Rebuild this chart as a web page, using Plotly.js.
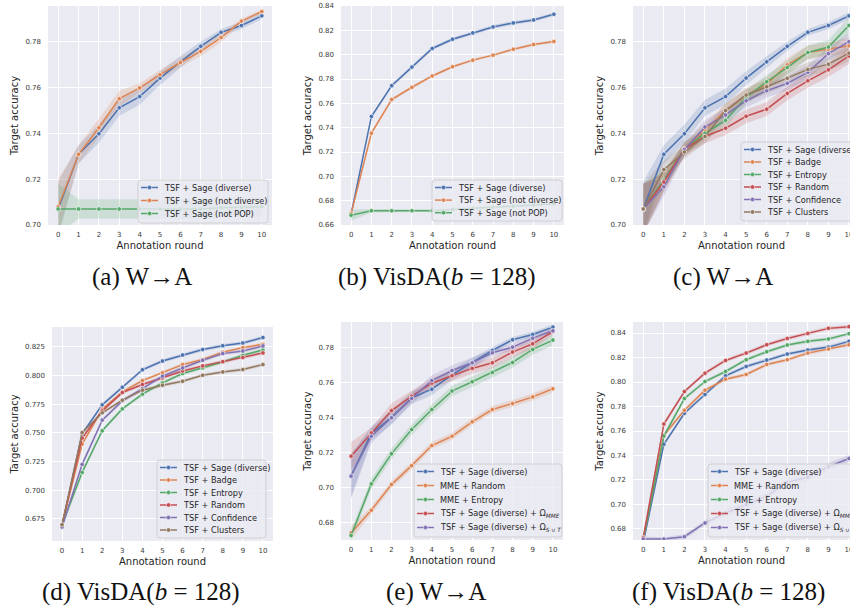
<!DOCTYPE html>
<html><head><meta charset="utf-8">
<script src="https://cdn.plot.ly/plotly-3.0.1.min.js"></script>
<style>html,body{margin:0;padding:0;background:#fff;overflow:hidden}#chart{width:850px;height:609px}</style>
</head><body><div id="chart"></div>
<script>
// ---------------- DATA ----------------
const rounds = [0,1,2,3,4,5,6,7,8,9,10];

// W->A
const waSageDiverse      = [0.707, 0.7309, 0.7399, 0.7512, 0.7561, 0.7642, 0.7713, 0.7781, 0.7842, 0.7872, 0.7914];
const waSageDiverseErr   = [0.012, 0.004, 0.004, 0.0035, 0.0035, 0.003, 0.0025, 0.002, 0.0015, 0.0015, 0.0015];
const waSageNotDiverse   = [0.708, 0.7309, 0.7425, 0.7552, 0.7599, 0.7657, 0.7710, 0.7759, 0.7819, 0.7891, 0.7933];
const waSageNotDiverseErr= [0.012, 0.004, 0.004, 0.0035, 0.002, 0.002, 0.002, 0.002, 0.002, 0.001, 0.001];
const waSageNotPop       = [0.707, 0.707, 0.707, 0.707, 0.707, 0.707, 0.707, 0.707, 0.7075, 0.7078, 0.708];
const waSageNotPopErr    = [0.011, 0.0043, 0.0043, 0.0043, 0.0043, 0.0043, 0.0043, 0.0043, 0.0043, 0.0043, 0.0043];
const waBadge      = [0.707, 0.7188, 0.7333, 0.7413, 0.7500, 0.7565, 0.7616, 0.7700, 0.7754, 0.7768, 0.7783];
const waEntropy    = [0.707, 0.7196, 0.7333, 0.7401, 0.7457, 0.7558, 0.7626, 0.7688, 0.7754, 0.7778, 0.7872];
const waRandom     = [0.707, 0.7188, 0.7333, 0.7387, 0.7423, 0.7475, 0.7506, 0.7575, 0.7630, 0.7678, 0.7739];
const waConfidence = [0.707, 0.7167, 0.7330, 0.7428, 0.7481, 0.7543, 0.7587, 0.7619, 0.7667, 0.7749, 0.7801];
const waClusters   = [0.707, 0.7242, 0.7319, 0.7387, 0.7500, 0.7568, 0.7604, 0.7641, 0.7680, 0.7703, 0.7751];
const waBaselineErr= [0.011, 0.004, 0.003, 0.003, 0.003, 0.003, 0.003, 0.003, 0.003, 0.003, 0.0035];
const waMmeRandom    = [0.6743, 0.6872, 0.7018, 0.7126, 0.7240, 0.7293, 0.7375, 0.7445, 0.7479, 0.7517, 0.7563];
const waMmeRandomErr = [0.004, 0.002, 0.002, 0.002, 0.002, 0.002, 0.002, 0.002, 0.002, 0.002, 0.002];
const waMmeEntropy   = [0.6728, 0.7022, 0.7193, 0.7331, 0.7445, 0.7550, 0.7603, 0.7656, 0.7713, 0.7787, 0.7840];
const waMmeEntropyErr= [0.003, 0.003, 0.003, 0.003, 0.003, 0.003, 0.003, 0.003, 0.003, 0.003, 0.003];
const waOmegaMme     = [0.7180, 0.7312, 0.7439, 0.7521, 0.7595, 0.7637, 0.7679, 0.7711, 0.7772, 0.7819, 0.7889];
const waOmegaMmeErr  = [0.008, 0.003, 0.004, 0.003, 0.003, 0.003, 0.003, 0.003, 0.003, 0.003, 0.002];
const waOmegaSuT     = [0.7066, 0.7293, 0.7398, 0.7508, 0.7610, 0.7667, 0.7711, 0.7768, 0.7800, 0.7851, 0.7893];
const waOmegaSuTErr  = [0.013, 0.004, 0.003, 0.003, 0.003, 0.003, 0.003, 0.002, 0.002, 0.002, 0.002];

// VisDA (b = 128)
const vSageDiverse    = [0.669, 0.7492, 0.7745, 0.7898, 0.8051, 0.8127, 0.8179, 0.8228, 0.8261, 0.8285, 0.8332];
const vSageDiverseErr = [0.003, 0.0015, 0.0015, 0.0015, 0.0015, 0.0015, 0.0015, 0.0015, 0.0015, 0.0015, 0.0015];
const vSageNotDiverse = [0.6695, 0.7355, 0.7631, 0.7732, 0.7825, 0.7901, 0.7955, 0.7996, 0.8045, 0.8084, 0.8108];
const vSageNotDivErr  = [0.002, 0.0012, 0.0012, 0.0012, 0.0012, 0.0012, 0.0012, 0.0012, 0.0012, 0.0012, 0.0012];
const vSageNotPop     = [0.668, 0.6717, 0.6717, 0.6718, 0.6718, 0.6728, 0.6735, 0.6745, 0.6755, 0.6765, 0.6775];
const vSageNotPopErr  = [0.0045, 0.0015, 0.0012, 0.0012, 0.0012, 0.0012, 0.0012, 0.0012, 0.0012, 0.0012, 0.0012];
const vBadge      = [0.670, 0.7403, 0.7707, 0.7858, 0.7957, 0.8024, 0.8096, 0.8140, 0.8204, 0.8244, 0.8273];
const vEntropy    = [0.670, 0.7156, 0.7519, 0.7710, 0.7838, 0.7937, 0.8018, 0.8067, 0.8119, 0.8177, 0.8224];
const vRandom     = [0.670, 0.7455, 0.7693, 0.7852, 0.7922, 0.7980, 0.8041, 0.8085, 0.8122, 0.8157, 0.8198];
const vConfidence = [0.668, 0.7226, 0.7612, 0.7780, 0.7887, 0.7995, 0.8067, 0.8134, 0.8192, 0.8215, 0.8259];
const vClusters   = [0.670, 0.7504, 0.7676, 0.7786, 0.7873, 0.7916, 0.7951, 0.8003, 0.8032, 0.8053, 0.8096];
const vBaselineErr= [0.003, 0.002, 0.0015, 0.0015, 0.0015, 0.0015, 0.0015, 0.0015, 0.0015, 0.0015, 0.0015];
const vMmeRandom  = [0.672, 0.7565, 0.7769, 0.7933, 0.8023, 0.8061, 0.8143, 0.8182, 0.8236, 0.8269, 0.8304];
const vMmeEntropy = [0.671, 0.7559, 0.7865, 0.8004, 0.8086, 0.8182, 0.8247, 0.8302, 0.8332, 0.8351, 0.8395];
const vOmegaMme   = [0.673, 0.7657, 0.7922, 0.8072, 0.8176, 0.8236, 0.8304, 0.8356, 0.8397, 0.8438, 0.8452];
const vOmegaSuT   = [0.6718, 0.6718, 0.6737, 0.6849, 0.6930, 0.7000, 0.7068, 0.7182, 0.7223, 0.7308, 0.7376];
const vOmegaSuTErr= [0.002, 0.0015, 0.002, 0.002, 0.003, 0.003, 0.003, 0.003, 0.003, 0.003, 0.003];

// tick labels
const yTicksWA   = [0.70, 0.72, 0.74, 0.76, 0.78];
const yTicksVb   = [0.66, 0.68, 0.70, 0.72, 0.74, 0.76, 0.78, 0.80, 0.82, 0.84];
const yTicksVd   = [0.675, 0.700, 0.725, 0.750, 0.775, 0.800, 0.825];
const yTicksWAe  = [0.68, 0.70, 0.72, 0.74, 0.76, 0.78];
const yTicksVf   = [0.68, 0.70, 0.72, 0.74, 0.76, 0.78, 0.80, 0.82, 0.84];

// labels
const nSageDiv = 'TSF + Sage (diverse)';
const nSageNotDiv = 'TSF + Sage (not diverse)';
const nSageNotPop = 'TSF + Sage (not POP)';
const nBadge='TSF + Badge', nEntropy='TSF + Entropy', nRandom='TSF + Random', nConf='TSF + Confidence', nClust='TSF + Clusters';
const nMmeRandom='MME + Random', nMmeEntropy='MME + Entropy';
const nOmegaMme='TSF + Sage (diverse) + Ω<sub><i>MME</i></sub>';
const nOmegaSuT='TSF + Sage (diverse) + Ω<sub><i>S</i> ∪ <i>T</i></sub>';
const captions = ['(a) W→A','(b) VisDA(<i>b</i> = 128)','(c) W→A','(d) VisDA(<i>b</i> = 128)','(e) W→A','(f) VisDA(<i>b</i> = 128)'];

// ---------------- STYLE ----------------
const C = {blue:'#4C72B0', orange:'#DD8452', green:'#55A868', red:'#C44E52', purple:'#8172B3', brown:'#937860'};
const W = 850, H = 609;
const px = v => v / W, py = v => 1 - v / H;

function hexA(h, a){const r=parseInt(h.slice(1,3),16),g=parseInt(h.slice(3,5),16),b=parseInt(h.slice(5,7),16);return `rgba(${r},${g},${b},${a})`;}

const panels = [
  {box:[48,272,6,225], xr:[-0.5,10.5], yr:[0.70,0.7957], yt:yTicksWA, fmt:'.2f',
   series:[[nSageDiv,waSageDiverse,waSageDiverseErr,C.blue],[nSageNotDiv,waSageNotDiverse,waSageNotDiverseErr,C.orange],[nSageNotPop,waSageNotPop,waSageNotPopErr,C.green]],
   leg:{x0:138,x1:268,y0:180,y1:223,dy:13}, cap:[142,277]},
  {box:[341,564,6,225], xr:[-0.5,10.5], yr:[0.66,0.84], yt:yTicksVb, fmt:'.2f',
   series:[[nSageDiv,vSageDiverse,vSageDiverseErr,C.blue],[nSageNotDiv,vSageNotDiverse,vSageNotDivErr,C.orange],[nSageNotPop,vSageNotPop,vSageNotPopErr,C.green]],
   leg:{x0:432,x1:562,y0:180,y1:221,dy:12.6}, cap:[437,277]},
  {box:[633,850,6,225], xr:[-0.5,10.05], yr:[0.70,0.7957], yt:yTicksWA, fmt:'.2f',
   series:[[nSageDiv,waSageDiverse,waSageDiverseErr,C.blue],[nBadge,waBadge,waBaselineErr,C.orange],[nEntropy,waEntropy,waBaselineErr,C.green],[nRandom,waRandom,waBaselineErr,C.red],[nConf,waConfidence,waBaselineErr,C.purple],[nClust,waClusters,waBaselineErr,C.brown]],
   leg:{x0:741,x1:880,y0:142,y1:221,dy:12.5}, cap:[723,277]},
  {box:[52,273,327,541], xr:[-0.5,10.5], yr:[0.6558,0.8424], yt:yTicksVd, fmt:'.3f',
   series:[[nSageDiv,vSageDiverse,vSageDiverseErr,C.blue],[nBadge,vBadge,vBaselineErr,C.orange],[nEntropy,vEntropy,vBaselineErr,C.green],[nRandom,vRandom,vBaselineErr,C.red],[nConf,vConfidence,vBaselineErr,C.purple],[nClust,vClusters,vBaselineErr,C.brown]],
   leg:{x0:157,x1:266,y0:460,y1:538,dy:12.5}, cap:[141,592]},
  {box:[341,563,322,540], xr:[-0.5,10.5], yr:[0.6703,0.7943], yt:yTicksWAe, fmt:'.2f',
   series:[[nSageDiv,waSageDiverse,waSageDiverseErr,C.blue],[nMmeRandom,waMmeRandom,waMmeRandomErr,C.orange],[nMmeEntropy,waMmeEntropy,waMmeEntropyErr,C.green],[nOmegaMme,waOmegaMme,waOmegaMmeErr,C.red],[nOmegaSuT,waOmegaSuT,waOmegaSuTErr,C.purple]],
   leg:{x0:414,x1:562,y0:464,y1:537,dy:14}, cap:[436,592]},
  {box:[633,850,322,540], xr:[-0.5,10.05], yr:[0.671,0.849], yt:yTicksVf, fmt:'.2f',
   series:[[nSageDiv,vSageDiverse,vSageDiverseErr,C.blue],[nMmeRandom,vMmeRandom,vBaselineErr,C.orange],[nMmeEntropy,vMmeEntropy,vBaselineErr,C.green],[nOmegaMme,vOmegaMme,vBaselineErr,C.red],[nOmegaSuT,vOmegaSuT,vOmegaSuTErr,C.purple]],
   leg:{x0:708,x1:880,y0:464,y1:537,dy:14}, cap:[728,592]}
];

const traces = [], lineTraces = [], shapes = [], annotations = [];
const layout = {width:W, height:H, margin:{l:0,r:0,t:0,b:0}, paper_bgcolor:'#ffffff', plot_bgcolor:'#EAEAF2',
  font:{family:'DejaVu Sans', color:'#262626'}, showlegend:false, shapes, annotations};

const tickFont = {family:'DejaVu Sans', size:7, color:'#3a3a3a'};
const titleFont = {family:'DejaVu Sans', size:10, color:'#262626'};

panels.forEach((p, i) => {
  const n = i + 1, xa = 'x' + n, ya = 'y' + n;
  const [l, r, t, b] = p.box;
  layout['xaxis' + n] = {domain:[px(l), Math.min(1, px(r))], range:p.xr, anchor:ya, tickvals:rounds, ticks:'',
    showgrid:true, gridcolor:'#ffffff', gridwidth:1, zeroline:false, showline:false, tickfont:tickFont,
    ticklabelstandoff:4, ticklabeloverflow:'allow', title:{text:'Annotation round', font:titleFont, standoff:3}, fixedrange:true};
  layout['yaxis' + n] = {domain:[py(b), py(t)], range:p.yr, anchor:xa, tickvals:p.yt, tickformat:p.fmt, ticks:'',
    showgrid:true, gridcolor:'#ffffff', gridwidth:1, zeroline:false, showline:false, tickfont:tickFont,
    ticklabelstandoff:6, ticklabeloverflow:'allow', title:{text:'Target accuracy', font:titleFont, standoff:4}, fixedrange:true};
  p.series.forEach(([name, y, err, col]) => {
    const up = y.map((v, k) => v + err[k]), lo = y.map((v, k) => v - err[k]);
    traces.push({x:rounds.concat(rounds.slice().reverse()), y:up.concat(lo.slice().reverse()), xaxis:xa, yaxis:ya,
      type:'scatter', mode:'lines', fill:'toself', fillcolor:hexA(col, 0.2), line:{width:0, color:hexA(col,0)}, hoverinfo:'skip'});
    lineTraces.push({x:rounds, y:y, xaxis:xa, yaxis:ya, type:'scatter', mode:'lines+markers', name:name,
      line:{color:col, width:1.5}, marker:{color:col, size:4.5, line:{color:'#ffffff', width:0.6}}});
  });
  // legend box
  const L = p.leg, rx = 3 / W, ry = 3 / H;
  const X0 = px(L.x0), X1 = px(L.x1), Y0 = py(L.y0), Y1 = py(L.y1);
  shapes.push({type:'path', xref:'paper', yref:'paper',
    path:`M ${X0+rx},${Y0} L ${X1-rx},${Y0} Q ${X1},${Y0} ${X1},${Y0-ry} L ${X1},${Y1+ry} Q ${X1},${Y1} ${X1-rx},${Y1} L ${X0+rx},${Y1} Q ${X0},${Y1} ${X0},${Y1+ry} L ${X0},${Y0-ry} Q ${X0},${Y0} ${X0+rx},${Y0} Z`,
    fillcolor:'rgba(234,234,242,0.8)', line:{color:'#d0d0d0', width:1}});
  p.series.forEach(([name, y, err, col], k) => {
    const cy = L.y0 + 7.5 + k * L.dy;
    shapes.push({type:'line', xref:'paper', yref:'paper', x0:px(L.x0+3), x1:px(L.x0+20), y0:py(cy), y1:py(cy), line:{color:col, width:1.5}});
    shapes.push({type:'circle', xref:'paper', yref:'paper', x0:px(L.x0+9.3), x1:px(L.x0+13.7), y0:py(cy-2.2), y1:py(cy+2.2), fillcolor:col, line:{color:'#ffffff', width:0.5}});
    annotations.push({xref:'paper', yref:'paper', x:px(L.x0+24), y:py(cy), xanchor:'left', yanchor:'middle', showarrow:false,
      text:name, font:{family:'DejaVu Sans', size:8.2, color:'#262626'}});
  });
  annotations.push({xref:'paper', yref:'paper', x:px(p.cap[0]), y:py(p.cap[1]), xanchor:'center', yanchor:'middle', showarrow:false,
    text:captions[i], font:{family:'Liberation Serif', size:25, color:'#111111'}});
});

Plotly.newPlot('chart', traces.concat(lineTraces), layout, {staticPlot:true});
</script></body></html>
